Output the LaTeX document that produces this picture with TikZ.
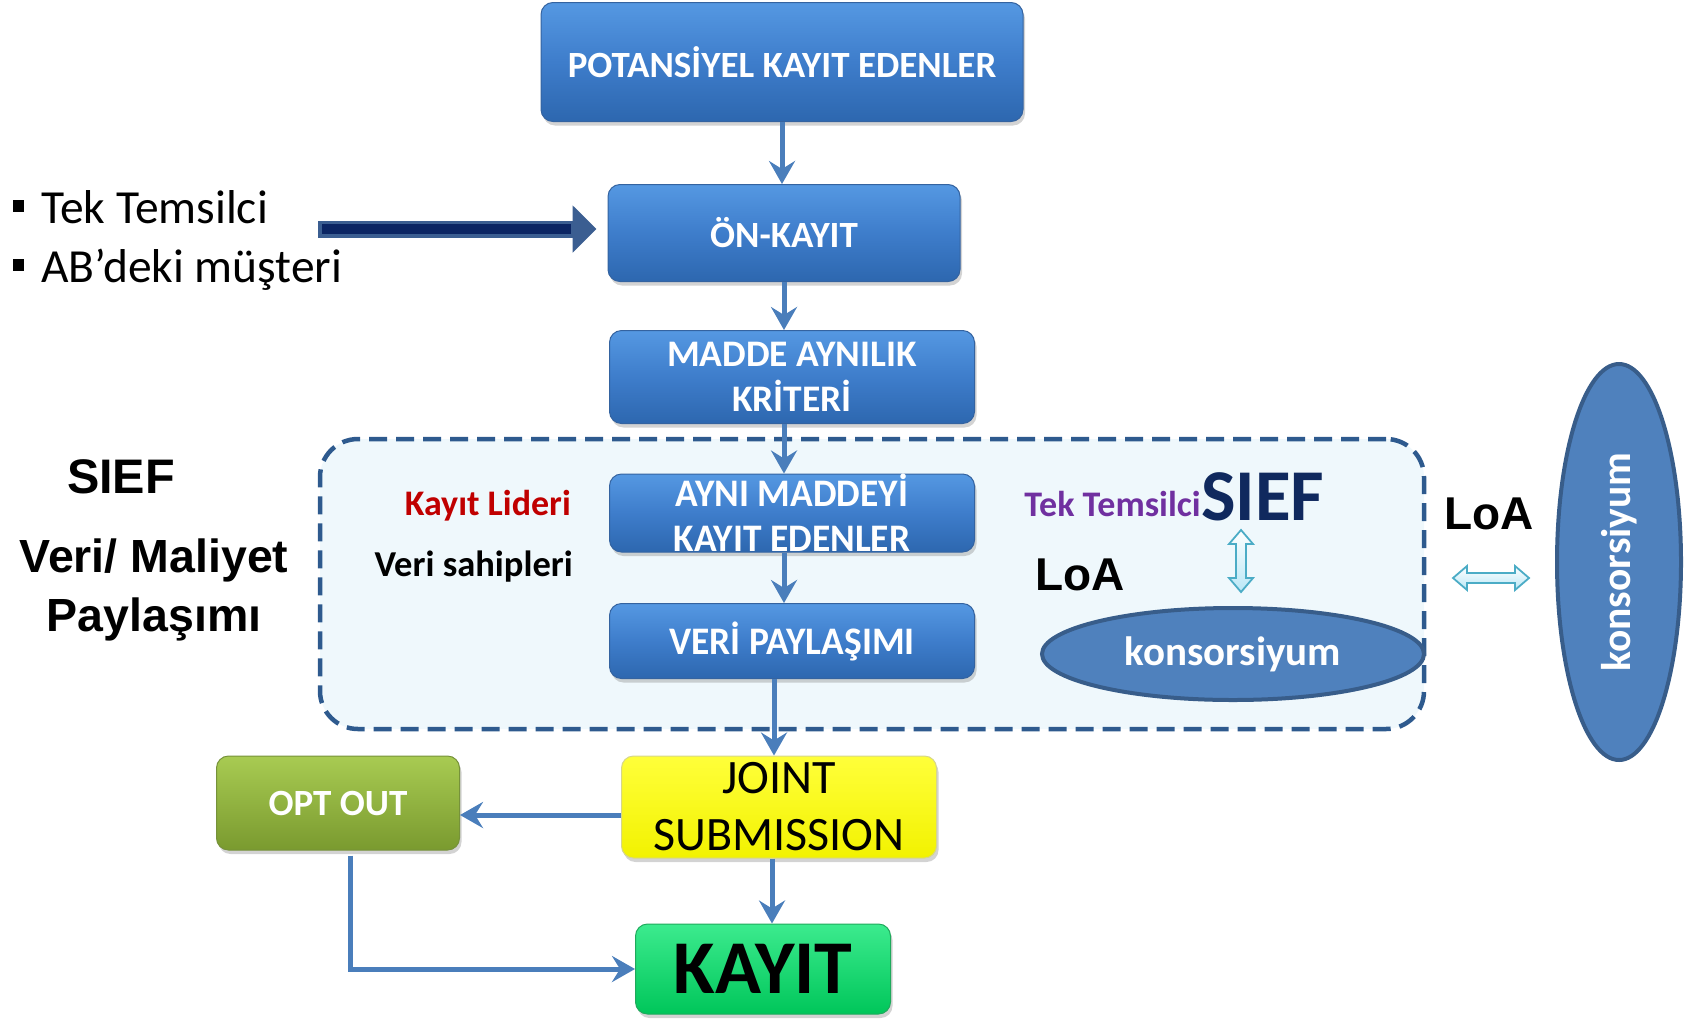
\documentclass[tikz,border=0pt]{standalone}
\usepackage{fontspec}
\setmainfont{Carlito}
\newfontfamily\arialfont{Liberation Sans}
\usetikzlibrary{arrows.meta,shadows,calc,shapes.geometric}
\definecolor{boxtop}{HTML}{5598E2}
\definecolor{boxmid}{HTML}{3E7DCB}
\definecolor{boxbot}{HTML}{2D67AF}
\definecolor{boxline}{HTML}{3463A0}
\definecolor{arrowblue}{HTML}{4A7EBB}
\definecolor{dashblue}{HTML}{2E5A8E}
\definecolor{sieffill}{HTML}{EFF8FC}
\definecolor{ellfill}{HTML}{4F81BD}
\definecolor{ellline}{HTML}{385D8A}
\definecolor{bigmid}{HTML}{3B5E91}
\definecolor{bignavy}{HTML}{0B2563}
\definecolor{cyanline}{HTML}{4BACC6}
\definecolor{cyanfill}{HTML}{B9E7F6}
\definecolor{opttop}{HTML}{A8CB52}
\definecolor{optbot}{HTML}{7A9A2F}
\definecolor{optline}{HTML}{76923A}
\definecolor{jointtop}{HTML}{FFFF3A}
\definecolor{jointbot}{HTML}{F2F200}
\definecolor{jointline}{HTML}{D6D68A}
\definecolor{kaytop}{HTML}{3CEB8E}
\definecolor{kaybot}{HTML}{00C65A}
\definecolor{kayline}{HTML}{1FAA5C}
\definecolor{liderred}{HTML}{C00000}
\definecolor{tekpurple}{HTML}{7030A0}
\definecolor{siefnavy}{HTML}{10295E}
\begin{document}
\begin{tikzpicture}[x=1pt,y=-1pt,
  boxbase/.style={rounded corners=12pt, line width=1pt, align=center, inner sep=0pt,
    drop shadow={opacity=0.35, shadow xshift=2pt, shadow yshift=-4pt}},
  bluebox/.style={boxbase, draw=boxline, top color=boxtop, bottom color=boxbot, middle color=boxmid,
    text=white, font=\bfseries\fontsize{37}{45}\selectfont},
  optbox/.style={boxbase, draw=optline, top color=opttop, bottom color=optbot,
    text=white, font=\bfseries\fontsize{37}{44}\selectfont},
  jointbox/.style={boxbase, draw=jointline, top color=jointtop, bottom color=jointbot,
    text=black, font=\fontsize{48}{57}\selectfont},
  kaybox/.style={boxbase, draw=kayline, top color=kaytop, bottom color=kaybot,
    text=black, font=\bfseries\fontsize{76}{80}\selectfont},
  ellnode/.style={ellipse, draw=ellline, fill=ellfill, line width=4pt, inner sep=0pt},
  flow/.style={draw=arrowblue, line width=5pt, -{Stealth[length=23pt,width=26pt,inset=8pt]}},
  lefttext/.style={font=\arialfont\bfseries\fontsize{46.5}{52}\selectfont, inner sep=0pt},
  midtext/.style={font=\bfseries\fontsize{36}{40}\selectfont, inner sep=0pt},
  bullettext/.style={font=\fontsize{47.5}{52}\selectfont, inner sep=0pt},
  cyanarrow/.style={draw=cyanline, line width=1.8pt, top color=white, bottom color=cyanfill}
]
\useasboundingbox (0,0) rectangle (1688,1018);

% SIEF container
\node[draw=dashblue, fill=sieffill, line width=4.5pt, dash pattern=on 18pt off 9pt,
  rounded corners=38pt, minimum width=1104pt, minimum height=290pt, inner sep=0pt]
  (siefbox) at (872,584) {};

% flow boxes
\node[bluebox, minimum width=482pt, minimum height=119pt] (pot) at (782,62) {POTANS\.{I}YEL KAYIT EDENLER};
\node[bluebox, minimum width=352pt, minimum height=97pt] (onk) at (784,233) {ÖN-KAYIT};
\node[bluebox, minimum width=365pt, minimum height=93pt, font=\bfseries\fontsize{37.5}{45}\selectfont] (madde) at (792,377) {MADDE AYNILIK\\KR\.{I}TER\.{I}};
\node[bluebox, minimum width=365pt, minimum height=78pt, font=\bfseries\fontsize{39}{45}\selectfont] (ayni) at (792,513)
  {\scalebox{0.96}[1]{AYNI MADDEY\.{I}}\\\scalebox{0.96}[1]{KAYIT EDENLER}};
\node[bluebox, minimum width=365pt, minimum height=75pt, font=\bfseries\fontsize{39}{45}\selectfont] (veri) at (792,641)
  {\scalebox{0.96}[1]{VER\.{I} PAYLAŞIMI}};
\node[jointbox, minimum width=315pt, minimum height=102pt] (joint) at (779,807) {JOINT\\SUBMISSION};
\node[optbox, minimum width=243pt, minimum height=94pt] (opt) at (338,803) {OPT OUT};
\node[kaybox, minimum width=255pt, minimum height=90pt] (kayit) at (763,969) {KAYIT};

% ellipses
\node[ellnode, minimum width=382pt, minimum height=92pt] (kons1) at (1233,654) {};
\node[font=\bfseries\fontsize{41}{44}\selectfont, text=white, inner sep=0pt] (kons1t) at (1233,654) {konsorsiyum};
\node[ellnode, minimum width=124pt, minimum height=396pt] (kons2) at (1619,562) {};
\node[font=\bfseries\fontsize{41.5}{44}\selectfont, text=white, inner sep=0pt, rotate=90] (kons2t) at (1619,562) {konsorsiyum};

% flow connectors
\draw[flow] (pot.south) -- (pot.south |- onk.north);
\draw[flow] (onk.south) -- (onk.south |- madde.north);
\draw[flow] (onk.south |- madde.south) -- (onk.south |- ayni.north);
\draw[flow] (onk.south |- ayni.south) -- (onk.south |- veri.north);
\draw[flow] ([xshift=-18pt]veri.south) -- ([xshift=-18pt]veri.south |- joint.north);
\draw[flow] ([xshift=-7pt]joint.south) -- ([xshift=-7pt]joint.south |- kayit.north);
\draw[flow] ([yshift=-8pt]joint.west) -- ([yshift=-8pt]joint.west -| opt.east);
\draw[flow] ([xshift=12pt,yshift=-5pt]opt.south) |- (kayit.west);

% bullets and big arrow
\node[bullettext, anchor=base west] (b1) at (13,223) {\rule[11pt]{11pt}{12pt}\hspace{17pt}Tek Temsilci};
\node[bullettext, anchor=base west] (b2) at (13,282) {\rule[11pt]{11pt}{12pt}\hspace{17pt}AB’deki müşteri};
\coordinate (bigstart) at (318,229);
\draw[draw=bigmid, line width=17pt, -{Triangle[length=24pt,width=46pt]}] (bigstart) -- ([xshift=-11pt]onk.west |- bigstart);
\draw[draw=bignavy, line width=10pt] ([xshift=4pt]bigstart) -- ([xshift=-37pt]onk.west |- bigstart);

% left labels
\node[font=\arialfont\bfseries\fontsize{48.5}{52}\selectfont, inner sep=0pt, anchor=base] (sief1) at (121,493) {SIEF};
\node[lefttext, anchor=base] (vm) at (154,572) {Veri/ Maliyet};
\node[lefttext, anchor=base] (pay) at (154,631) {Paylaşımı};

% inside labels
\node[midtext, text=liderred, anchor=base east] (lider) at (571,515) {Kayıt Lideri};
\node[midtext, text=black, anchor=base east, font=\bfseries\fontsize{36.5}{40}\selectfont] (sahip) at (573,576) {Veri sahipleri};
\node[midtext, text=tekpurple, anchor=base east] (tek) at (1201,516) {Tek Temsilci};
\node[font=\bfseries\fontsize{73}{76}\selectfont, text=siefnavy, inner sep=0pt, anchor=base west] (sief2) at (1201,520) {SIEF};
\node[font=\arialfont\bfseries\fontsize{46}{50}\selectfont, inner sep=0pt, anchor=base] (loa1) at (1080,590) {LoA};
\node[font=\arialfont\bfseries\fontsize{46}{50}\selectfont, inner sep=0pt, anchor=base] (loa2) at (1489,529) {LoA};

% light cyan double arrows
\begin{scope}[shift={(1491,578)}]
  \path[cyanarrow] (-38,0) -- (-24,-12) -- (-24,-5) -- (24,-5) -- (24,-12) -- (38,0)
    -- (24,12) -- (24,5) -- (-24,5) -- (-24,12) -- cycle;
\end{scope}
\begin{scope}[shift={(1241,561)}]
  \path[cyanarrow] (0,-31) -- (-12,-17) -- (-5,-17) -- (-5,17) -- (-12,17) -- (0,31)
    -- (12,17) -- (5,17) -- (5,-17) -- (12,-17) -- cycle;
\end{scope}
\end{tikzpicture}
\end{document}
